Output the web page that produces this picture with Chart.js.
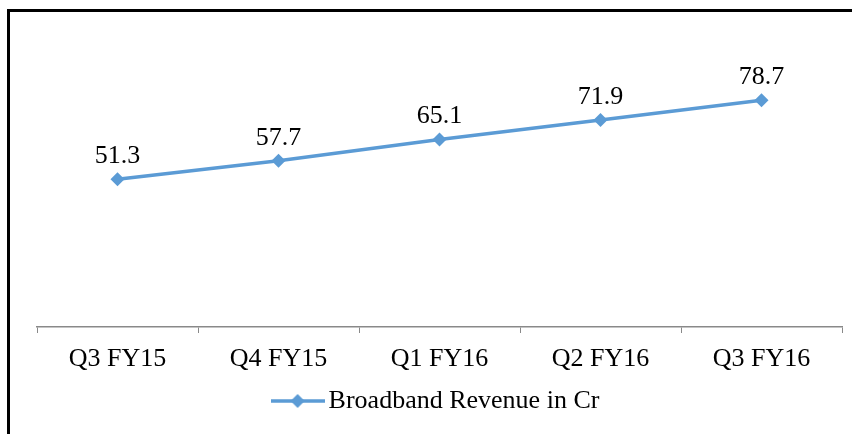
<!DOCTYPE html>
<html>
<head>
<meta charset="utf-8">
<script src="https://cdn.jsdelivr.net/npm/chart.js@4"></script>
<style>
  body { margin: 0; background: #fff; }
  #wrap { position: relative; width: 852px; height: 434px; }
  #frame { position: absolute; left: 7px; top: 9px; width: 845px; height: 425px;
           border-top: 3px solid #000; border-left: 3px solid #000; box-sizing: border-box; }
  canvas { position: absolute; left: 0; top: 0; }
</style>
</head>
<body>
<div id="wrap">
  <div id="frame"></div>
  <canvas id="lineChart" width="852" height="434"></canvas>
</div>
<script>
const quarters = ['Q3 FY15', 'Q4 FY15', 'Q1 FY16', 'Q2 FY16', 'Q3 FY16'];
const revenue = [51.3, 57.7, 65.1, 71.9, 78.7];
const seriesName = 'Broadband Revenue in Cr';

const blue = '#5B9BD5';
const font = '"Liberation Serif", "Times New Roman", serif';

// legend marker: line with a diamond in the middle
const legendMark = document.createElement('canvas');
legendMark.width = 54;
legendMark.height = 16;
let lc = legendMark.getContext('2d');
lc.strokeStyle = blue;
lc.lineWidth = 3.5;
lc.beginPath();
lc.moveTo(0, 8);
lc.lineTo(54, 8);
lc.stroke();
lc.fillStyle = blue;
lc.beginPath();
lc.moveTo(27, 1);
lc.lineTo(34, 8);
lc.lineTo(27, 15);
lc.lineTo(20, 8);
lc.closePath();
lc.fill();

// value labels above each point
const valueLabels = {
    id: 'valueLabels',
    afterDatasetsDraw(chart) {
        const ctx = chart.ctx;
        const meta = chart.getDatasetMeta(0);
        ctx.save();
        ctx.font = '26px ' + font;
        ctx.fillStyle = '#000';
        ctx.textAlign = 'center';
        ctx.textBaseline = 'middle';
        meta.data.forEach((pt, i) => {
            ctx.fillText(revenue[i].toFixed(1), pt.x, pt.y - 23);
        });
        ctx.restore();
    }
};

var ctx = document.getElementById('lineChart');
var lineChart = new Chart(ctx, {
    type: 'line',
    data: {
        labels: quarters,
        datasets: [{
            label: seriesName,
            data: revenue,
            borderColor: blue,
            backgroundColor: blue,
            borderWidth: 3.5,
            pointStyle: 'rectRot',
            pointRadius: 7,
            pointHoverRadius: 7,
            pointBackgroundColor: blue,
            pointBorderWidth: 0,
            tension: 0
        }]
    },
    options: {
        responsive: false,
        animation: false,
        layout: { padding: { left: 37, right: 10, top: 39, bottom: 10 } },
        plugins: {
            tooltip: { enabled: false },
            legend: {
                position: 'bottom',
                labels: {
                    usePointStyle: true,
                    pointStyle: legendMark,
                    pointStyleWidth: 36,
                    padding: 14,
                    color: '#000',
                    font: { family: font, size: 26 }
                }
            }
        },
        scales: {
            x: {
                offset: true,
                afterFit(scale) { scale.height = 47; },
                grid: {
                    offset: true,
                    drawOnChartArea: false,
                    drawTicks: true,
                    tickLength: 6,
                    color: '#898989'
                },
                border: { color: '#898989', width: 1.5 },
                ticks: {
                    color: '#000',
                    padding: 11,
                    font: { family: font, size: 26 }
                }
            },
            y: {
                display: false,
                min: 0,
                max: 100
            }
        }
    },
    plugins: [valueLabels]
});
</script>
</body>
</html>
